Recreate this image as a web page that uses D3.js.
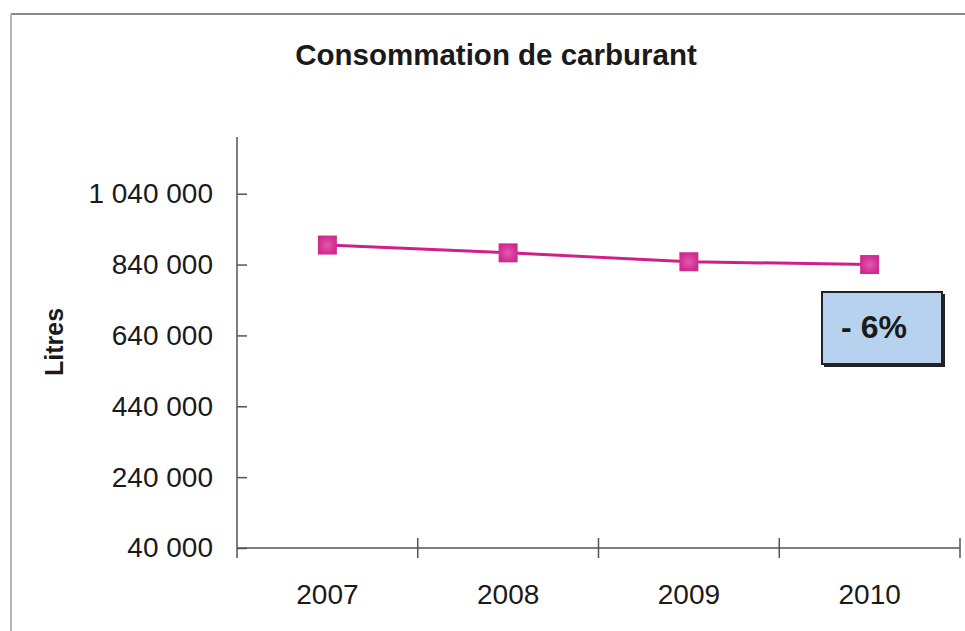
<!DOCTYPE html>
<html>
<head>
<meta charset="utf-8">
<script src="https://cdn.jsdelivr.net/npm/d3@7"></script>
<style>
  body { margin: 0; background: #fff; }
  svg { display: block; font-family: "Liberation Sans", Arial, sans-serif; }
</style>
</head>
<body>
<svg id="chart" width="965" height="631"></svg>
<script>
// data
const years = ["2007", "2008", "2009", "2010"];
const litres = [895000, 873000, 848000, 840000];
const yTicks = [40000, 240000, 440000, 640000, 840000, 1040000];
const changeLabel = "- 6%";

const width = 965, height = 631;
const margin = {top: 137, left: 237, right: 5, bottom: 83};
const plotW = width - margin.left - margin.right;   // axis runs to x=960
const plotH = height - margin.top - margin.bottom;  // axis at y=548

const svg = d3.select("#chart");

// frame of the scanned chart area
svg.append("line").attr("x1", 11).attr("y1", 14).attr("x2", 965).attr("y2", 14)
    .style("stroke", "#8a8a8a").style("stroke-width", 2);
svg.append("line").attr("x1", 11).attr("y1", 14).attr("x2", 11).attr("y2", 631)
    .style("stroke", "#b5b5b5").style("stroke-width", 2);

const g = svg.append("g").attr("transform", `translate(${margin.left},${margin.top})`);

const x = d3.scaleBand().domain(years).range([0, plotW]);
const y = d3.scaleLinear().domain([40000, 1200000]).range([plotH, 0]);

const fmt = v => d3.format(",")(v).replace(/,/g, " ");

// y axis (ticks cross the axis line)
const yAxis = g.append("g")
    .call(d3.axisLeft(y).tickValues(yTicks).tickFormat(fmt).tickSize(10).tickSizeOuter(0).tickPadding(14));
yAxis.selectAll(".tick line").attr("x2", 10);
yAxis.select(".domain").attr("d", `M0,0V${plotH + 10}`);

// x axis: ticks at band boundaries
const xAxis = g.append("g").attr("transform", `translate(0,${plotH})`)
    .call(d3.axisBottom(x).tickSize(0).tickPadding(36));
xAxis.select(".domain").attr("d", `M0,0H${plotW}`);
const bounds = years.map(d => x(d)).concat([plotW]).slice(1);
xAxis.selectAll(".bound")
    .data(bounds).enter()
    .append("line")
    .attr("class", "bound")
    .attr("x1", d => d).attr("x2", d => d)
    .attr("y1", -10).attr("y2", 10);

g.selectAll(".domain, .tick line, .bound")
    .style("stroke", "#555").style("stroke-width", 1.5);
g.selectAll(".tick text")
    .style("font-size", "28px").style("fill", "#1a1a1a").style("font-family", "'Liberation Sans', Arial, sans-serif");

// line + markers
const cx = d => x(d) + x.bandwidth() / 2;
const line = d3.line()
    .x((d, i) => cx(years[i]))
    .y(d => y(d));

g.append("path")
    .datum(litres)
    .attr("d", line)
    .style("fill", "none")
    .style("stroke", "#cf1f8c")
    .style("stroke-width", 3);

const defs = svg.append("defs");
const grad = defs.append("radialGradient").attr("id", "mk");
grad.append("stop").attr("offset", "0%").attr("stop-color", "#e25aae");
grad.append("stop").attr("offset", "100%").attr("stop-color", "#cf2a90");

const ms = 19;
g.selectAll(".marker")
    .data(litres).enter()
    .append("rect")
    .attr("class", "marker")
    .attr("x", (d, i) => cx(years[i]) - ms / 2)
    .attr("y", d => y(d) - ms / 2)
    .attr("width", ms).attr("height", ms)
    .style("fill", "url(#mk)");

// y axis title
svg.append("text")
    .attr("transform", "translate(63,342) rotate(-90)")
    .attr("text-anchor", "middle")
    .style("font-size", "25px").style("font-weight", "bold").style("fill", "#1a1a1a")
    .text("Litres");

// chart title
svg.append("text")
    .attr("x", 496).attr("y", 65)
    .attr("text-anchor", "middle")
    .style("font-size", "29.5px").style("font-weight", "bold").style("fill", "#1a1a1a")
    .text("Consommation de carburant");

// percentage change box
const box = svg.append("g").attr("transform", "translate(822,292)");
box.append("rect").attr("x", 2).attr("y", 2).attr("width", 121).attr("height", 73)
    .style("fill", "#222");
box.append("rect").attr("width", 120).attr("height", 72)
    .style("fill", "#b7d2ef").style("stroke", "#222").style("stroke-width", 2);
box.append("text")
    .attr("x", 52).attr("y", 46)
    .attr("text-anchor", "middle")
    .style("font-size", "32px").style("font-weight", "bold").style("fill", "#1a1a1a")
    .text(changeLabel);
</script>
</body>
</html>
